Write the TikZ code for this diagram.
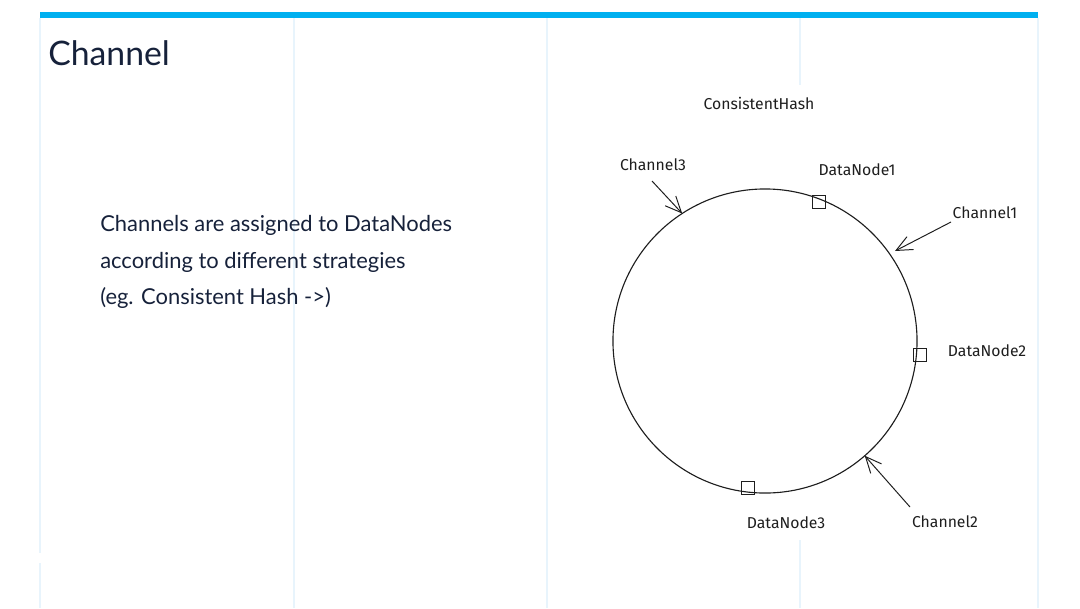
\documentclass[tikz,border=0pt]{standalone}
\usepackage{fontspec}
\usepackage{tikz}
\usetikzlibrary{%
	calc,%
	arrows.meta,%
	positioning,%
}
\newfontfamily\bodyfont{Lato}
\newfontfamily\sketchfont{Fira Sans}
\definecolor{cbar}{RGB}{0, 176, 240}
\definecolor{cgrid}{RGB}{232, 244, 252}
\definecolor{ctext}{RGB}{22, 33, 58}
\definecolor{cink}{RGB}{30, 30, 30}
\tikzset{
	>={Straight Barb[length=4mm,width=3.6mm]},%
	gridline/.style={%
			draw=cgrid,%
			line width=0.8pt},%
	titletext/.style={%
			text=ctext,%
			inner sep=0,%
			font={\bodyfont\fontsize{24}{28}\selectfont}},%
	bodytext/.style={%
			text=ctext,%
			inner sep=0,%
			align=left,%
			font={\bodyfont\fontsize{15.6}{26}\selectfont}},%
	sketchlabel/.style={%
			text=cink,%
			inner sep=1pt,%
			font={\sketchfont\fontsize{11.2}{13}\selectfont}},%
	ringnode/.style={%
			draw=cink,%
			circle,%
			line width=0.8pt,%
			outer sep=0,%
			minimum size=7.6cm},%
	datanode/.style={%
			draw=cink,%
			rectangle,%
			line width=0.7pt,%
			minimum size=0.33cm},%
	pointer/.style={%
			->,%
			draw=cink,%
			line width=0.7pt},%
}

\begin{document}
\begin{tikzpicture}[x=0.025cm, y=-0.025cm]%
	\useasboundingbox (0,0) rectangle (1080,608);

	% page grid and top bar
	\foreach \gx in {294, 547, 1038} {
		\draw[gridline] (\gx,18) -- (\gx,608);
	}
	\draw[gridline] (40,18) -- (40,553);
	\draw[gridline] (40,563) -- (40,608);
	\draw[gridline] (800,18) -- (800,85);
	\draw[gridline] (800,540) -- (800,608);
	\fill[cbar] (40,12) rectangle (1038,17.5);

	\node[titletext, anchor=base west] (title) at (48,65) {Channel};

	\node[bodytext, anchor=north west] (desc) at (100,215) {Channels are assigned to DataNodes\\
		according to different strategies\\
		(eg. Consistent Hash ->)};

	% hash ring
	\node[sketchlabel] (hash) at (759,103) {ConsistentHash};
	\node[ringnode] (ring) at (765,341) {};

	\node[datanode] (dn1sq) at (819,202) {};
	\node[datanode] (dn2sq) at (920,355) {};
	\node[datanode] (dn3sq) at (748,488) {};

	\node[sketchlabel] (dn1) at (857,170) {DataNode1};
	\node[sketchlabel] (dn2) at (987,351) {DataNode2};
	\node[sketchlabel] (dn3) at (786,523) {DataNode3};

	\node[sketchlabel] (ch3) at (653,165) {Channel3};
	\node[sketchlabel] (ch1) at (985,213) {Channel1};
	\node[sketchlabel] (ch2) at (945,522) {Channel2};

	\coordinate (ch3tail) at (652,181);
	\coordinate (ch1tail) at (951,222);
	\coordinate (ch2tail) at (910,507);
	\coordinate (ch1head) at (895,251);

	\draw[pointer] (ch3tail) to (ring.123.5);
	\draw[pointer] (ch1tail) to (ch1head);
	\draw[pointer] (ch2tail) to (ring.-49.5);
\end{tikzpicture}
\end{document}
